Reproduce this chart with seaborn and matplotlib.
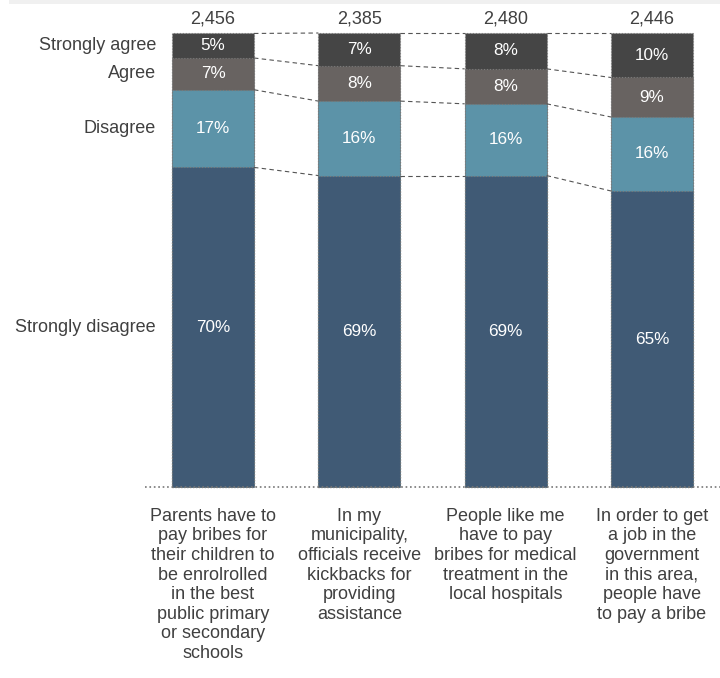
import matplotlib
matplotlib.use("Agg")
import matplotlib.pyplot as plt
from matplotlib.patches import Rectangle
import pandas as pd
import seaborn as sns

# Data (shares in %)
questions = [
    "Parents have to\npay bribes for\ntheir children to\nbe enrolrolled\nin the best\npublic primary\nor secondary\nschools",
    "In my\nmunicipality,\nofficials receive\nkickbacks for\nproviding\nassistance",
    "People like me\nhave to pay\nbribes for medical\ntreatment in the\nlocal hospitals",
    "In order to get\na job in the\ngovernment\nin this area,\npeople have\nto pay a bribe",
]
sample_sizes = ["2,456", "2,385", "2,480", "2,446"]
responses = ["Strongly disagree", "Disagree", "Agree", "Strongly agree"]
strongly_disagree = [70.4, 68.6, 68.6, 65.2]
disagree = [17.1, 16.4, 15.8, 16.3]
agree = [7.0, 7.8, 7.7, 8.7]
strongly_agree = [5.4, 7.2, 7.9, 9.8]
colors = ["#405a75", "#5c93a8", "#686361", "#454545"]

df = pd.DataFrame({
    "q": [f"Q{i}" for i in range(len(questions))],
    "Strongly disagree": strongly_disagree,
    "Disagree": disagree,
    "Agree": agree,
    "Strongly agree": strongly_agree,
})
cum = df[responses].cumsum(axis=1)
bottoms = cum.shift(1, axis=1).fillna(0)

plt.rcParams["font.family"] = ["Liberation Sans", "DejaVu Sans"]
fig = plt.figure(figsize=(7.2, 6.78), dpi=100)
ax = fig.add_axes([0, 0, 1, 1])

width = 0.56
# stacked bars drawn as layered cumulative bars (largest first)
for resp, col in reversed(list(zip(responses, colors))):
    sns.barplot(x=df["q"], y=cum[resp], color=col, width=width, ax=ax,
                edgecolor="#7a7a7a", linewidth=0.8, linestyle=":",
                saturation=1)

# dashed connectors between neighbouring bars
for i in range(len(df) - 1):
    for resp in responses:
        ax.plot([i + width / 2, i + 1 - width / 2],
                [cum.loc[i, resp], cum.loc[i + 1, resp]],
                color="#555555", lw=0.8, ls=(0, (4, 3)))

# segment labels, sample sizes and question texts
for i in range(len(df)):
    for resp in responses:
        v = df.loc[i, resp]
        ax.text(i, bottoms.loc[i, resp] + v / 2, f"{v:.0f}%",
                ha="center", va="center", color="white", fontsize=12.3)
    ax.text(i, 103.1, sample_sizes[i], ha="center", va="center",
            color="#404040", fontsize=13)
    ax.text(i, -4.6, questions[i], ha="center", va="top",
            color="#404040", fontsize=13, linespacing=1.2)

# response labels next to the first bar
for resp in responses:
    ax.text(-0.39, bottoms.loc[0, resp] + df.loc[0, resp] / 2, resp,
            ha="right", va="center", color="#404040", fontsize=13)

# baseline
ax.plot([-0.465, 3.465], [0, 0], color="#777777", lw=1.2, ls=":")

ax.set_xlim(-1.456, 3.465)
ax.set_ylim(-42.07, 107.27)
ax.axis("off")

fig.add_artist(Rectangle((9 / 720, 1 - 4 / 678), 711 / 720, 4 / 678,
                         transform=fig.transFigure, color="#f0f0f0", lw=0))

fig.savefig("out.png", dpi=100)
